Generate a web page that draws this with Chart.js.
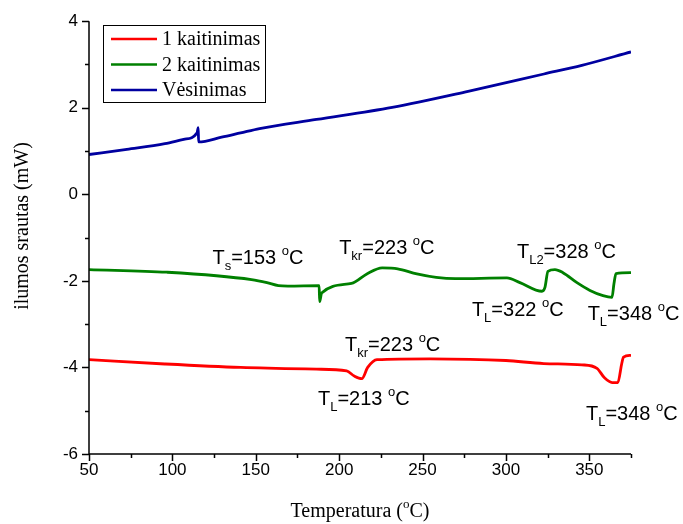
<!DOCTYPE html>
<html>
<head>
<meta charset="utf-8">
<script src="https://cdn.jsdelivr.net/npm/chart.js@4.4.0/dist/chart.umd.min.js"></script>
<style>
  html, body { margin: 0; padding: 0; background: #fff; }
  #wrap { width: 683px; height: 524px; }
</style>
</head>
<body>
<div id="wrap"><canvas id="dsc_chart"></canvas></div>
<script>
// 1 kaitinimas (red)
const heat1_T = [50, 95.5, 140.9, 186.4, 204.5, 209.1, 213.6, 217.1, 222.7, 254.6, 300, 322.7, 345.5, 354.6, 359.1, 363.7, 367.1, 369.4, 370.5, 375];
const heat1_W = [-3.82, -3.92, -4.00, -4.04, -4.08, -4.20, -4.26, -4.00, -3.82, -3.80, -3.84, -3.91, -3.94, -4.02, -4.24, -4.35, -4.35, -3.92, -3.76, -3.72];

// 2 kaitinimas (green)
const heat2_T = [50, 96.7, 147.4, 156.7, 163.6, 169.3, 188, 188.3, 189.5, 207.4, 216.6, 225.8, 235.1, 246.6, 258.2, 269.7, 300.6, 308.4, 321.6, 323.4, 325.2, 329.4, 334.2, 342.6, 350.4, 358.2, 363.6, 364.8, 366, 375];
const heat2_W = [-1.74, -1.80, -1.97, -2.04, -2.11, -2.12, -2.11, -2.48, -2.28, -2.06, -1.84, -1.70, -1.72, -1.84, -1.92, -1.95, -1.93, -2.04, -2.24, -2.15, -1.78, -1.74, -1.81, -2.04, -2.22, -2.34, -2.38, -2.06, -1.83, -1.81];

// Vėsinimas (blue)
const cool_T = [50, 72.7, 95.5, 106.8, 114.8, 115.5, 115.7, 129.5, 140.9, 152.3, 186.4, 231.8, 277.3, 322.8, 345.5, 375];
const cool_W = [0.92, 1.04, 1.17, 1.27, 1.42, 1.54, 1.21, 1.32, 1.42, 1.52, 1.73, 2.01, 2.38, 2.78, 2.98, 3.29];

const seriesNames = ['1 kaitinimas', '2 kaitinimas', 'Vėsinimas'];
const xTickLabels = [50, 100, 150, 200, 250, 300, 350];
const yTickLabels = [-6, -4, -2, 0, 2, 4];

function toPoints(xs, ys) {
    return xs.map((x, i) => ({ x: x, y: ys[i] }));
}

// text notes: [parts, x, y] in data units, parts = [text, 0 normal / 1 sub / 2 sup]
const notes = [
    [[['T', 0], ['s', 1], ['=153 ', 0], ['o', 2], ['C', 0]], 124, -1.62],
    [[['T', 0], ['kr', 1], ['=223 ', 0], ['o', 2], ['C', 0]], 200, -1.39],
    [[['T', 0], ['L2', 1], ['=328 ', 0], ['o', 2], ['C', 0]], 306.6, -1.48],
    [[['T', 0], ['L', 1], ['=322 ', 0], ['o', 2], ['C', 0]], 279.6, -2.8],
    [[['T', 0], ['L', 1], ['=348 ', 0], ['o', 2], ['C', 0]], 349, -2.91],
    [[['T', 0], ['kr', 1], ['=223 ', 0], ['o', 2], ['C', 0]], 203.5, -3.62],
    [[['T', 0], ['L', 1], ['=213 ', 0], ['o', 2], ['C', 0]], 187.3, -4.87],
    [[['T', 0], ['L', 1], ['=348 ', 0], ['o', 2], ['C', 0]], 348, -5.22]
];

function drawRich(ctx, x, y, parts, size, family) {
    let cx = x;
    parts.forEach(p => {
        const small = p[1] !== 0;
        const fs = small ? Math.round(size * 0.65) : size;
        ctx.font = fs + 'px ' + family;
        let dy = 0;
        if (p[1] === 1) dy = size * 0.3;
        if (p[1] === 2) dy = -size * 0.45;
        ctx.fillText(p[0], cx, y + dy);
        cx += ctx.measureText(p[0]).width;
    });
    return cx - x;
}

function richWidth(ctx, parts, size, family) {
    let w = 0;
    parts.forEach(p => {
        const fs = p[1] !== 0 ? Math.round(size * 0.65) : size;
        ctx.font = fs + 'px ' + family;
        w += ctx.measureText(p[0]).width;
    });
    return w;
}

const extrasPlugin = {
    id: 'extras',
    afterDraw(chart) {
        const ctx = chart.ctx;
        const area = chart.chartArea;
        const xs = chart.scales.x;
        const ys = chart.scales.y;
        ctx.save();
        ctx.strokeStyle = '#000';
        ctx.fillStyle = '#000';
        ctx.lineWidth = 1.5;

        // axes lines
        ctx.beginPath();
        ctx.moveTo(area.left, area.top);
        ctx.lineTo(area.left, area.bottom);
        ctx.lineTo(area.right, area.bottom);
        ctx.stroke();

        // tick marks, major and minor
        ctx.beginPath();
        for (let v = -6; v <= 4; v += 1) {
            const py = Math.round(ys.getPixelForValue(v)) + 0.5;
            const len = v % 2 === 0 ? 7 : 4;
            ctx.moveTo(area.left, py);
            ctx.lineTo(area.left - len, py);
        }
        for (let v = 50; v <= 375; v += 25) {
            const px = Math.round(xs.getPixelForValue(v)) + 0.5;
            const len = v % 50 === 0 ? 7 : 4;
            ctx.moveTo(px, area.bottom);
            ctx.lineTo(px, area.bottom + len);
        }
        ctx.stroke();

        // annotations
        ctx.textBaseline = 'alphabetic';
        ctx.textAlign = 'left';
        notes.forEach(n => {
            drawRich(ctx, xs.getPixelForValue(n[1]), ys.getPixelForValue(n[2]), n[0], 20, '"Liberation Sans", Arial, sans-serif');
        });

        // axis titles
        const serif = '"Liberation Serif", "Times New Roman", serif';
        const xTitle = [['Temperatura (', 0], ['o', 2], ['C)', 0]];
        const xw = richWidth(ctx, xTitle, 20, serif);
        drawRich(ctx, (area.left + area.right) / 2 - xw / 2, 517, xTitle, 20, serif);

        ctx.save();
        ctx.translate(28, 226);
        ctx.rotate(-Math.PI / 2);
        ctx.font = '20px ' + serif;
        ctx.textAlign = 'center';
        ctx.fillText('ilumos srautas (mW)', 0, 0);
        ctx.restore();

        // legend box
        const lx = 103, ly = 25, lw = 162, lh = 77;
        ctx.lineWidth = 1;
        ctx.strokeStyle = '#000';
        ctx.fillStyle = '#fff';
        ctx.fillRect(lx, ly, lw, lh);
        ctx.strokeRect(lx + 0.5, ly + 0.5, lw, lh);
        ctx.font = '20px ' + serif;
        ctx.textBaseline = 'middle';
        chart.data.datasets.forEach((ds, i) => {
            const ry = ly + 14 + i * 25.5;
            ctx.strokeStyle = ds.borderColor;
            ctx.lineWidth = 2.5;
            ctx.beginPath();
            ctx.moveTo(lx + 8, ry);
            ctx.lineTo(lx + 54, ry);
            ctx.stroke();
            ctx.fillStyle = '#000';
            ctx.fillText(ds.label, lx + 59, ry + 1);
        });
        ctx.restore();
    }
};

function createDscChart() {
    const dsc_chart = document.getElementById('dsc_chart');
    const dsc_chart_data = {
        datasets: [{
            label: seriesNames[0],
            data: toPoints(heat1_T, heat1_W),
            borderColor: '#ff0000',
        }, {
            label: seriesNames[1],
            data: toPoints(heat2_T, heat2_W),
            borderColor: '#008000',
        }, {
            label: seriesNames[2],
            data: toPoints(cool_T, cool_W),
            borderColor: '#0000a0',
        }]
    };

    const dsc_chart_config = {
        type: 'line',
        data: dsc_chart_data,
        options: {
            responsive: true,
            maintainAspectRatio: false,
            animation: false,
            layout: { padding: { top: 20, right: 52, left: 0, bottom: 0 } },
            elements: {
                point: { radius: 0 },
                line: { borderWidth: 2.8, tension: 0.3, cubicInterpolationMode: 'monotone' }
            },
            plugins: {
                legend: { display: false },
                tooltip: { enabled: false }
            },
            scales: {
                x: {
                    type: 'linear',
                    min: 50,
                    max: 375,
                    grid: { display: false, drawTicks: false },
                    border: { display: false },
                    afterBuildTicks: s => { s.ticks = xTickLabels.map(v => ({ value: v })); },
                    afterFit: s => { s.height = 70; },
                    ticks: {
                        color: '#000',
                        padding: 6,
                        maxRotation: 0,
                        font: { family: '"Liberation Sans", Arial, sans-serif', size: 17 }
                    }
                },
                y: {
                    min: -6,
                    max: 4,
                    grid: { display: false, drawTicks: false },
                    border: { display: false },
                    afterBuildTicks: s => { s.ticks = yTickLabels.map(v => ({ value: v })); },
                    afterFit: s => { s.width = 89; },
                    ticks: {
                        color: '#000',
                        padding: 11,
                        font: { family: '"Liberation Sans", Arial, sans-serif', size: 17 }
                    }
                }
            }
        },
        plugins: [extrasPlugin]
    };

    const myChart = new Chart(dsc_chart, dsc_chart_config);
    return myChart;
}

createDscChart();
</script>
</body>
</html>
